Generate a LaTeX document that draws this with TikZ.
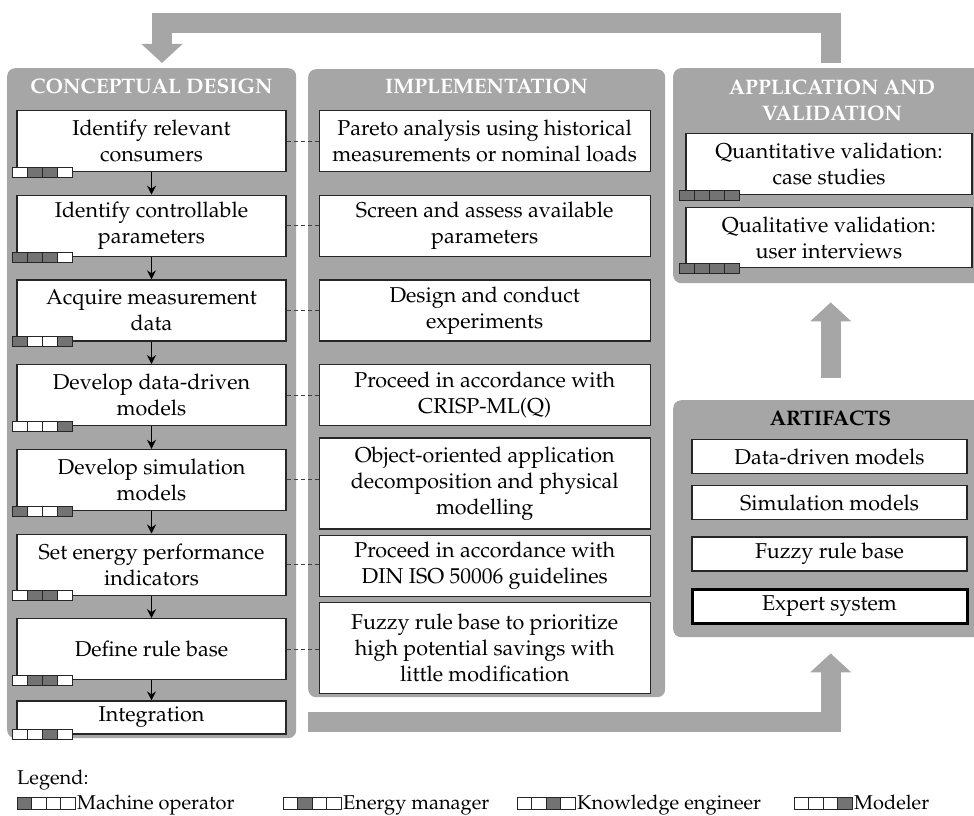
\documentclass[tikz,border=0pt]{standalone}
\usepackage[T1]{fontenc}
\usepackage{mathpazo}
\usepackage{tikz}
\usetikzlibrary{arrows.meta,positioning}

\definecolor{panelgray}{RGB}{166,166,166}
\definecolor{rolegray}{RGB}{115,115,115}

% row of role cells, one fill colour per role, starting at #1
\newcommand{\rolecells}[4]{%
  \foreach \col [count=\i from 0] in {#4}
    \draw[rolecell, fill=\col] (#1) ++(\i*#2,0) rectangle ++(#2,#3);
}

\begin{document}
\begin{tikzpicture}[
  x=1pt, y=-1pt,
  font=\fontsize{21.5}{26}\selectfont,
  node distance=22.5pt and 32pt,
  panel/.style={rectangle, rounded corners=8pt, fill=panelgray,
    anchor=north west, inner sep=0pt},
  head/.style={font=\fontsize{21}{26}\selectfont\bfseries, text=white,
    align=center},
  stepbox/.style={rectangle, draw=black!85, line width=1.2pt, fill=white,
    align=center, inner sep=0pt, minimum width=269pt, minimum height=61pt},
  implbox/.style={stepbox, minimum width=331pt},
  valbox/.style={stepbox, minimum width=286pt},
  artbox/.style={stepbox, minimum width=275pt, minimum height=34pt},
  rolecell/.style={draw=black!85, line width=0.8pt},
  flow/.style={-{Stealth[length=9pt,width=9pt]}, line width=1.1pt},
  link/.style={draw=black!75, line width=0.9pt, dash pattern=on 4pt off 3pt},
  bigarrow/.style={draw=panelgray, line width=20pt, line join=miter,
    -{Triangle[length=19pt,width=40pt]}},
  legtext/.style={anchor=base west, inner sep=0pt,
    font=\fontsize{20}{24}\selectfont}
]
  \useasboundingbox (0,0) rectangle (974,816);

  % panels
  \node[panel, minimum width=289pt, minimum height=670pt] (concept) at (7,68) {};
  \node[panel, minimum width=357pt, minimum height=628pt] (impl) at (308,69) {};
  \node[panel, minimum width=315pt, minimum height=215pt] (app) at (673,68) {};
  \node[panel, minimum width=315pt, minimum height=237pt] (art) at (673,400) {};

  \node[head] (concepthead) at (151.5,86) {CONCEPTUAL DESIGN};
  \node[head] (implhead) at (486.5,86) {IMPLEMENTATION};
  \node[head] (apphead) at (832,100) {APPLICATION AND\\VALIDATION};
  \node[head, text=black] (arthead) at (830.5,418) {ARTIFACTS};

  % conceptual design steps
  \node[stepbox, anchor=north] (identify) at (151.5,110) {Identify relevant\\consumers};
  \node[stepbox, below=of identify]   (params)     {Identify controllable\\parameters};
  \node[stepbox, below=of params]     (acquire)    {Acquire measurement\\data};
  \node[stepbox, below=of acquire]    (datamodels) {Develop data-driven\\models};
  \node[stepbox, below=of datamodels] (simmodels)  {Develop simulation\\models};
  \node[stepbox, below=of simmodels]  (enpis)      {Set energy performance\\indicators};
  \node[stepbox, below=of enpis]      (rulebase)   {Define rule base};
  \node[stepbox, below=20pt of rulebase, minimum height=33pt] (integration) {Integration};

  % implementation
  \node[implbox, right=of identify]   (pareto) {Pareto analysis using historical\\measurements or nominal loads};
  \node[implbox, right=of params]     (screen) {Screen and assess available\\parameters};
  \node[implbox, right=of acquire]    (doe)    {Design and conduct\\experiments};
  \node[implbox, right=of datamodels] (crisp)  {Proceed in accordance with\\CRISP-ML(Q)};
  \node[implbox, below=11pt of crisp, minimum height=91pt] (oop)
    {Object-oriented application\\decomposition and physical\\modelling};
  \node[implbox, below=5pt of oop]    (iso)    {Proceed in accordance with\\DIN ISO 50006 guidelines};
  \node[implbox, below=5pt of iso, minimum height=91pt] (fuzzy)
    {Fuzzy rule base to prioritize\\high potential savings with\\little modification};

  % application and validation
  \node[valbox, anchor=north] (quant) at (829,133) {Quantitative validation:\\case studies};
  \node[valbox, below=12pt of quant, minimum height=60pt] (qual) {Qualitative validation:\\user interviews};

  % artifacts
  \node[artbox, anchor=north] (ddm) at (829.5,439) {Data-driven models};
  \node[artbox, below=11pt of ddm] (sim) {Simulation models};
  \node[artbox, below=16pt of sim] (frb) {Fuzzy rule base};
  \node[artbox, below=16pt of frb, draw=black, line width=3pt] (expert) {Expert system};

  \foreach \a/\b in {identify/params, params/acquire, acquire/datamodels,
      datamodels/simmodels, simmodels/enpis, enpis/rulebase, rulebase/integration}
    \draw[flow] (\a) -- (\b);

  \foreach \a/\b in {identify/pareto, params/screen, acquire/doe, datamodels/crisp,
      simmodels/oop, enpis/iso, rulebase/fuzzy}
    \draw[link] (\a.east) -- (\a.east -| \b.west);

  % roles: machine operator, energy manager, knowledge engineer, modeler
  \rolecells{[xshift=-4pt,yshift=5pt]identify.south west}{15}{10}{white,rolegray,rolegray,white}
  \rolecells{[xshift=-4pt,yshift=5pt]params.south west}{15}{10}{rolegray,rolegray,rolegray,white}
  \rolecells{[xshift=-4pt,yshift=5pt]acquire.south west}{15}{10}{rolegray,white,white,rolegray}
  \rolecells{[xshift=-4pt,yshift=5pt]datamodels.south west}{15}{10}{white,white,white,rolegray}
  \rolecells{[xshift=-4pt,yshift=5pt]simmodels.south west}{15}{10}{rolegray,white,white,rolegray}
  \rolecells{[xshift=-4pt,yshift=5pt]enpis.south west}{15}{10}{white,rolegray,rolegray,white}
  \rolecells{[xshift=-4pt,yshift=5pt]rulebase.south west}{15}{10}{white,rolegray,rolegray,white}
  \rolecells{[xshift=-4pt,yshift=5pt]integration.south west}{15}{10}{white,white,rolegray,white}
  \rolecells{[xshift=-6pt,yshift=5pt]quant.south west}{15}{10}{rolegray,rolegray,rolegray,rolegray}
  \rolecells{[xshift=-6pt,yshift=5pt]qual.south west}{15}{10}{rolegray,rolegray,rolegray,rolegray}

  % feedback and result arrows
  \draw[bigarrow] ([yshift=5pt]app.north)
    |- ([xshift=155pt,yshift=45pt]concept.north west)
    -- ([xshift=155pt,yshift=5pt]concept.north west);
  \draw[bigarrow] ([yshift=-25pt]impl.south west) -| ([yshift=-16pt]art.south);
  \draw[bigarrow] ([yshift=22pt]art.north) -- ([yshift=-19pt]app.south);

  % legend
  \node[legtext] (legend) at (17,784) {Legend:};
  \node[legtext] (lmo)  at (77,809)  {Machine operator};
  \node[legtext] (lem)  at (343,809) {Energy manager};
  \node[legtext] (lke)  at (577,809) {Knowledge engineer};
  \node[legtext] (lmod) at (854,809) {Modeler};
  \rolecells{[xshift=-60pt]lmo.base west}{14.5}{-12}{rolegray,white,white,white}
  \rolecells{[xshift=-60pt]lem.base west}{14.5}{-12}{white,rolegray,white,white}
  \rolecells{[xshift=-60pt]lke.base west}{14.5}{-12}{white,white,rolegray,white}
  \rolecells{[xshift=-60pt]lmod.base west}{14.5}{-12}{white,white,white,rolegray}
\end{tikzpicture}
\end{document}
